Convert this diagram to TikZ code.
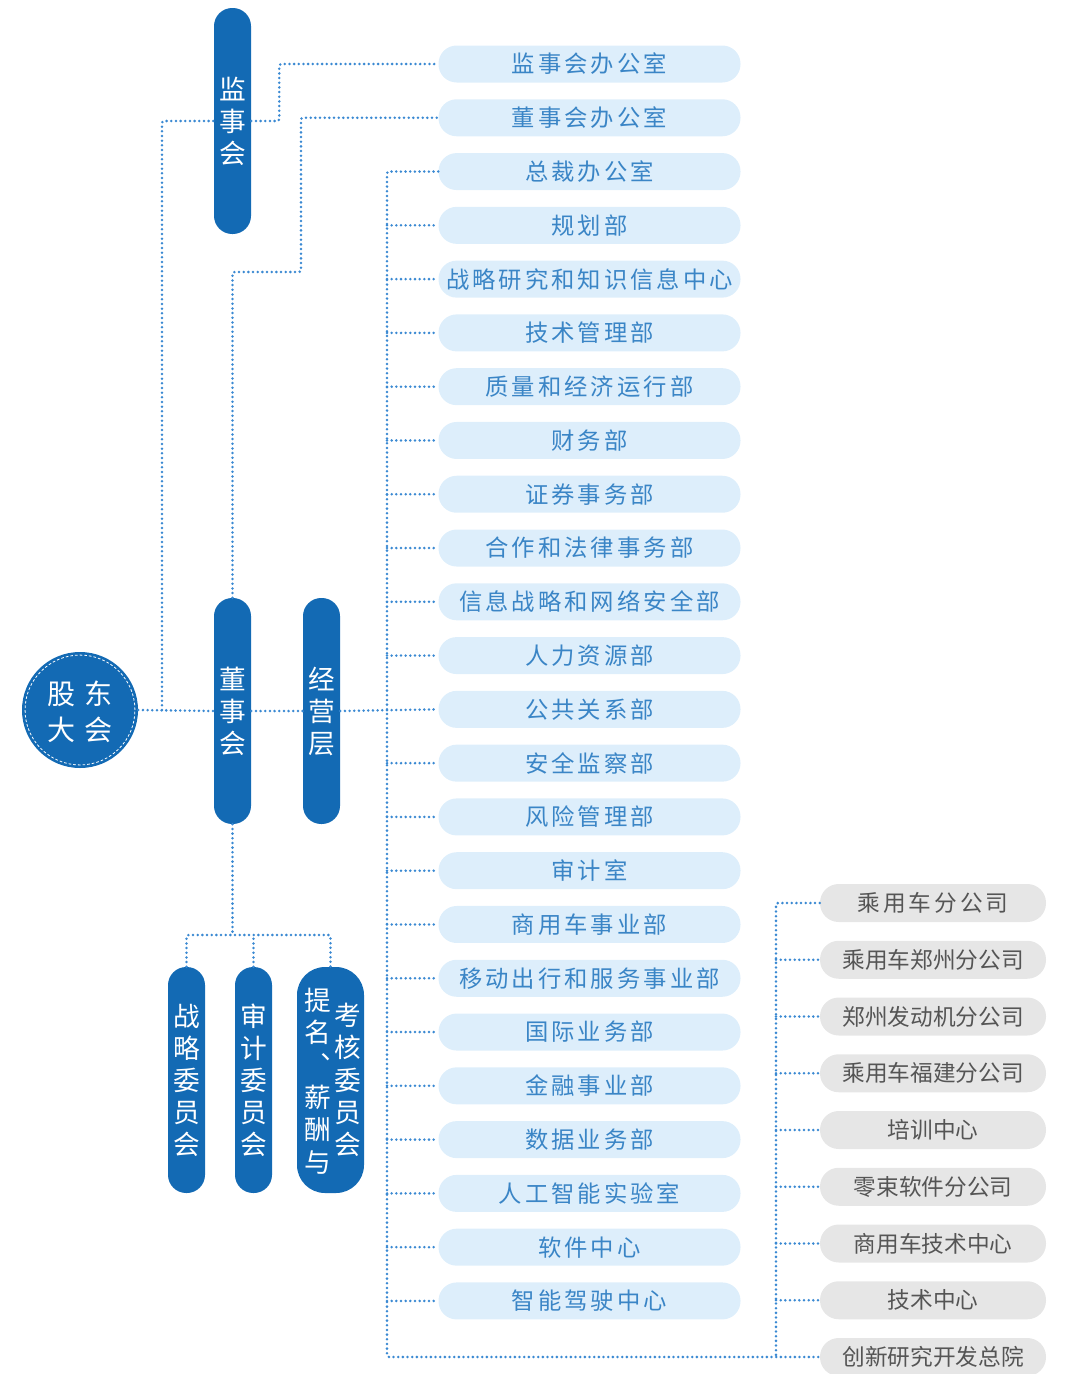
\documentclass[tikz,border=0pt]{standalone}
\usepackage{fontspec}
\setmainfont{Noto Sans CJK SC}
\newfontfamily\cjk{Noto Sans CJK SC}
\newfontfamily\cjksp[LetterSpace=13]{Noto Sans CJK SC}
\definecolor{pillblue}{HTML}{136AB4}
\definecolor{dotblue}{HTML}{3A89D2}
\definecolor{lightbox}{HTML}{DDEEFB}
\definecolor{lighttext}{HTML}{3A85C6}
\definecolor{graybox}{HTML}{E6E6E6}
\definecolor{graytext}{HTML}{555555}
\tikzset{
  conn/.style={draw=dotblue, line width=2.1pt, dash pattern=on 0pt off 3.5pt, line cap=round, rounded corners=1.5pt},
  pill/.style={fill=pillblue, rectangle, rounded corners=13.6pt, minimum width=27.75pt, minimum height=169.5pt, inner sep=0pt,
    text=white, align=center, font=\cjk\fontsize{20}{24}\selectfont},
  lbox/.style={fill=lightbox, rectangle, rounded corners=13.6pt, minimum width=226.5pt, minimum height=27.75pt, inner sep=0pt,
    text=lighttext, font=\cjksp\fontsize{17.5}{20}\selectfont},
  gbox/.style={fill=graybox, rectangle, rounded corners=14pt, minimum width=169.5pt, minimum height=28.5pt, inner sep=0pt,
    text=graytext, font=\cjk\fontsize{17}{20}\selectfont},
  ptext/.style={text=white, align=center, inner sep=0pt, font=\cjk\fontsize{20}{24.3}\selectfont}
}
\begin{document}
\begin{tikzpicture}[x=0.75pt,y=-0.75pt]
\useasboundingbox (0,0) rectangle (1068,1374);

% shareholders circle
\node[circle, fill=pillblue, minimum size=87pt, inner sep=0pt] (gd) at (80,710) {};
\draw[white, line width=0.6pt, dash pattern=on 2pt off 1.5pt] (gd.center) circle (41.2pt);
\node[text=white, align=center, inner sep=0pt, font=\cjk\fontsize{21}{27}\selectfont] (gdt) at (80,712) {股\hspace{6.5pt}东\\大\hspace{6.5pt}会};

% pills
\node[pill] (jsh) at (232.5,121) {监\\事\\会};
\node[pill] (dsh) at (232.5,711) {董\\事\\会};
\node[pill] (jyc) at (321.5,711) {经\\营\\层};
\node[pill] (k1) at (186.5,1080) {战\\略\\委\\员\\会};
\node[pill] (k2) at (253.5,1080) {审\\计\\委\\员\\会};
\node[pill, minimum width=50.25pt, rounded corners=21pt] (k3) at (330.5,1080) {};
\node[ptext] (k3a) at (318,1081) {提\\名\\︑\\薪\\酬\\与};
\node[ptext] (k3b) at (348,1080) {考\\核\\委\\员\\会};

% light boxes
\foreach \t [count=\i] in {监事会办公室,董事会办公室,总裁办公室,规划部,战略研究和知识信息中心,技术管理部,质量和经济运行部,财务部,证券事务部,合作和法律事务部,信息战略和网络安全部,人力资源部,公共关系部,安全监察部,风险管理部,审计室,商用车事业部,移动出行和服务事业部,国际业务部,金融事业部,数据业务部,人工智能实验室,软件中心,智能驾驶中心}
  \node[lbox] (b\i) at (589.5,{64+(\i-1)*53.78}) {\t};

% gray boxes
\foreach \t [count=\i] in {{\cjksp 乘用车分公司},乘用车郑州分公司,郑州发动机分公司,乘用车福建分公司,培训中心,零束软件分公司,商用车技术中心,技术中心,创新研究开发总院}
  \node[gbox] (g\i) at (933,{903+(\i-1)*56.75}) {\t};

% coordinates
\coordinate (ca) at (162,710);
\coordinate (mbot) at (387,1357);
\coordinate (gbot) at (776,1357);
\coordinate (cj) at (232.5,935);

% connectors
\draw[conn] (gd.east) -- (dsh.west);
\draw[conn] (dsh.east) -- (jyc.west);
\draw[conn] (jyc.east) -- (b13.west);
\draw[conn] (ca) |- (jsh.west);
\draw[conn] (jsh.east) -- ++(28,0) |- (b1.west);
\draw[conn] (dsh.north) |- (301,272) |- (b2.west);
\draw[conn] (b3.west) -| (mbot) -- (g9.west);
\foreach \i in {4,...,12,14,15,...,24}
  \draw[conn] (b\i.west -| mbot) -- (b\i.west);
\draw[conn] (g1.west) -| (gbot);
\foreach \i in {2,...,8}
  \draw[conn] (g\i.west -| gbot) -- (g\i.west);
\draw[conn] (dsh.south) -- (cj);
\draw[conn] (k1.north) |- (cj) -| (k3.north);
\draw[conn] (k2.north) -- (k2.north |- cj);
\end{tikzpicture}
\end{document}
